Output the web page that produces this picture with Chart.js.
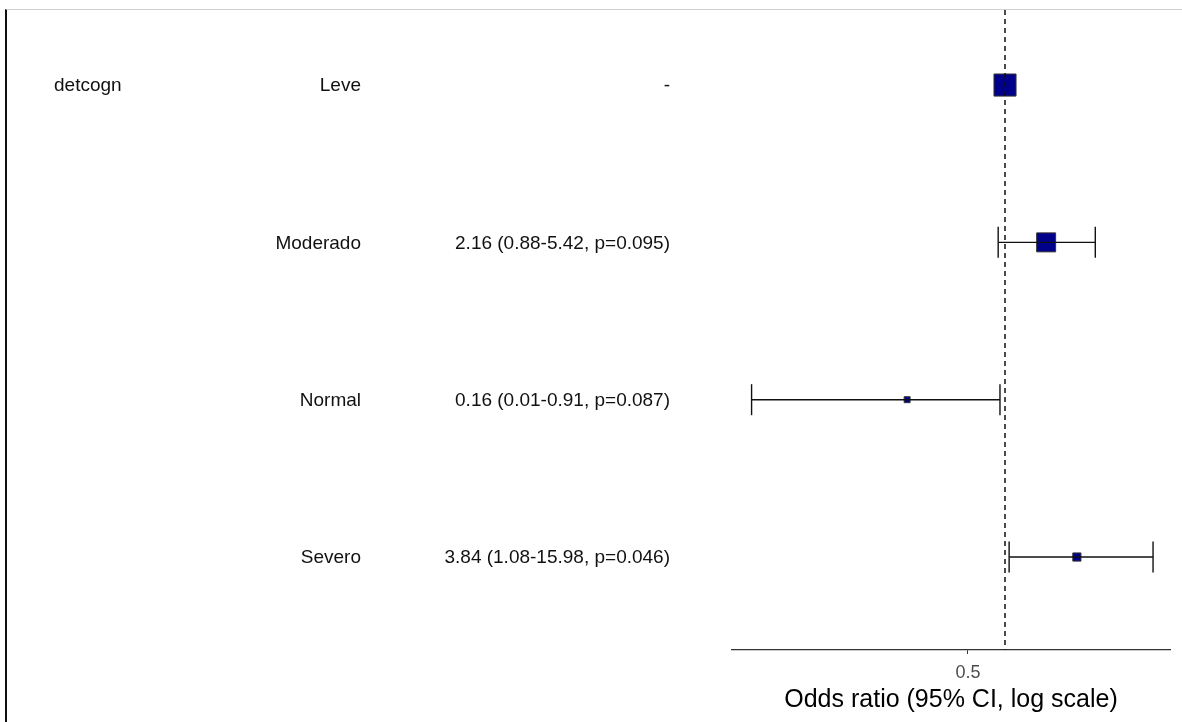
<!DOCTYPE html>
<html>
<head>
<meta charset="utf-8">
<title>detcogn - odds ratio</title>
<script src="https://cdn.jsdelivr.net/npm/chart.js@4.4.1/dist/chart.umd.min.js"></script>
<style>
  body { margin: 0; background: #fff; }
  #wrap { position: relative; width: 1182px; height: 722px; }
  #chart-1 { position: absolute; left: 0; top: 0; }
  #frame {
    position: absolute; left: 5px; top: 9px; right: 0; bottom: 0;
    border-left: 2px solid #111; border-top: 1px solid #d0d0d0;
    pointer-events: none;
  }
</style>
</head>
<body>
<div id="wrap">
  <canvas id="chart-1" width="1182" height="722"></canvas>
  <div id="frame"></div>
</div>
<script>
// rows, top to bottom
const variableNames = ["detcogn", "", "", ""];
const levels = ["Leve", "Moderado", "Normal", "Severo"];
const orLabels = [
  "-",
  "2.16 (0.88-5.42, p=0.095)",
  "0.16 (0.01-0.91, p=0.087)",
  "3.84 (1.08-15.98, p=0.046)",
];
const oddsRatio = [1, 2.16, 0.16, 3.84];
const ciLower = [null, 0.88, 0.0087, 1.08];
const ciUpper = [null, 5.42, 0.91, 15.98];
// relative weight of each row (box size)
const boxWeight = [1, 0.86, 0.27, 0.37];
const xTicks = [0.5];
const refLine = 1;

const rows = levels.map((_, i) => i);

const boxData = rows.map((i) => ({ x: oddsRatio[i], y: i }));
const whiskerSets = rows
  .filter((i) => ciLower[i] !== null)
  .map((i) => ({
    type: "line",
    data: [
      { x: ciLower[i], y: i },
      { x: ciUpper[i], y: i },
    ],
    borderColor: "#111",
    borderWidth: 1.4,
    pointRadius: 0,
    order: 2,
  }));
const capData = [];
rows.forEach((i) => {
  if (ciLower[i] !== null) {
    capData.push({ x: ciLower[i], y: i });
    capData.push({ x: ciUpper[i], y: i });
  }
});

const fontFamily = "'Liberation Sans', Arial, sans-serif";

const tablePlugin = {
  id: "tableText",
  afterDraw(chart) {
    const c = chart.ctx;
    const yScale = chart.scales.y;
    const xScale = chart.scales.x;
    c.save();
    c.font = "19px " + fontFamily;
    c.fillStyle = "#111";
    c.textBaseline = "middle";
    rows.forEach((i) => {
      const y = yScale.getPixelForValue(i) + 1;
      c.textAlign = "left";
      c.fillText(variableNames[i], 54, y);
      c.textAlign = "right";
      c.fillText(levels[i], 361, y);
      c.fillText(orLabels[i], 670, y);
    });
    // dashed reference line at OR = 1
    const xr = xScale.getPixelForValue(refLine);
    c.strokeStyle = "#111";
    c.lineWidth = 1.5;
    c.setLineDash([5, 4]);
    c.beginPath();
    c.moveTo(xr, chart.chartArea.top);
    c.lineTo(xr, chart.chartArea.bottom);
    c.stroke();
    c.restore();
  },
};

const ctx_1 = document.getElementById("chart-1");
new Chart(ctx_1, {
  type: "scatter",
  data: {
    datasets: [
      {
        type: "scatter",
        data: capData,
        pointStyle: "line",
        rotation: 90,
        pointRadius: 15.5,
        borderColor: "#111",
        borderWidth: 1.4,
        order: 1,
      },
      ...whiskerSets,
      {
        type: "scatter",
        data: boxData,
        pointStyle: "rect",
        pointRadius: boxWeight.map((w) => 15.6 * w),
        backgroundColor: "#00008B",
        borderColor: "#333",
        borderWidth: 1,
        order: 3,
      },
    ],
  },
  plugins: [tablePlugin],
  options: {
    responsive: false,
    animation: false,
    events: [],
    layout: {
      autoPadding: false,
      padding: { left: 732, right: 12, top: 10, bottom: 0 },
    },
    plugins: {
      legend: { display: false },
      tooltip: { enabled: false },
    },
    scales: {
      x: {
        type: "logarithmic",
        min: 0.00603,
        max: 21.95,
        afterBuildTicks: (scale) => {
          scale.ticks = xTicks.map((v) => ({ value: v }));
        },
        afterFit: (scale) => {
          scale.height = 72;
        },
        grid: {
          drawOnChartArea: false,
          drawTicks: true,
          tickLength: 4,
          color: "#333",
        },
        border: { display: true, color: "#333", width: 1.3 },
        ticks: {
          color: "#4d4d4d",
          font: { family: fontFamily, size: 18 },
          padding: 8,
          maxRotation: 0,
          callback: (v) => String(v),
        },
        title: {
          display: true,
          text: "Odds ratio (95% CI, log scale)",
          color: "#000",
          font: { family: fontFamily, size: 25 },
          padding: { top: 0, bottom: 7 },
        },
      },
      y: {
        type: "linear",
        reverse: true,
        min: -0.477,
        max: 3.591,
        display: false,
      },
    },
  },
});
</script>
</body>
</html>
